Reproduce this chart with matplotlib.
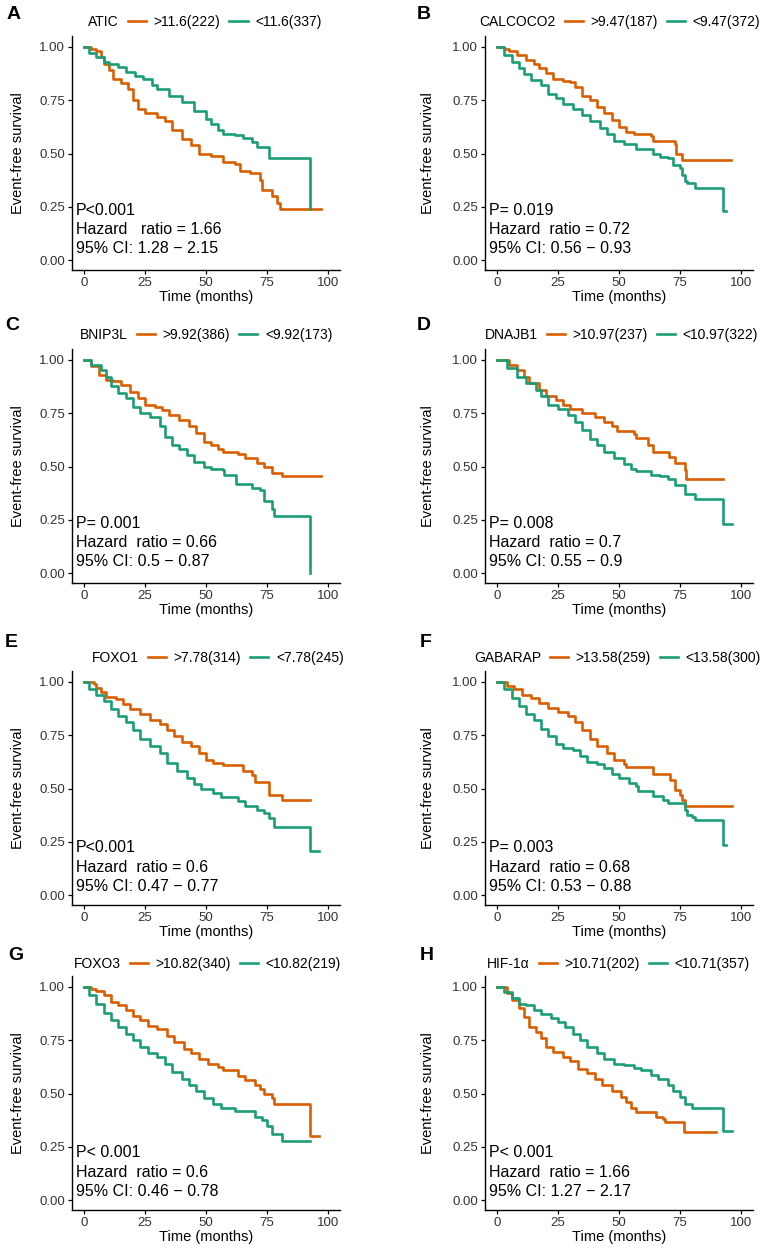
import matplotlib
matplotlib.use("Agg")
import matplotlib.pyplot as plt
from matplotlib.lines import Line2D

plt.rcParams['font.family'] = ['Liberation Sans', 'DejaVu Sans']

ORANGE = "#D95F02"
GREEN = "#1B9E77"

# ---- data: (time in months, survival) knots of each KM step curve ----
genes = ["ATIC", "CALCOCO2", "BNIP3L", "DNAJB1", "FOXO1", "GABARAP", "FOXO3", "HIF-1α"]
letters = ["A", "B", "C", "D", "E", "F", "G", "H"]
high_labels = [">11.6(222)", ">9.47(187)", ">9.92(386)", ">10.97(237)",
               ">7.78(314)", ">13.58(259)", ">10.82(340)", ">10.71(202)"]
low_labels = ["<11.6(337)", "<9.47(372)", "<9.92(173)", "<10.97(322)",
              "<7.78(245)", "<13.58(300)", "<10.82(219)", "<10.71(357)"]
p_text = ["P<0.001", "P= 0.019", "P= 0.001", "P= 0.008",
          "P<0.001", "P= 0.003", "P< 0.001", "P< 0.001"]
hr_text = ["Hazard   ratio = 1.66", "Hazard  ratio = 0.72", "Hazard  ratio = 0.66", "Hazard  ratio = 0.7",
           "Hazard  ratio = 0.6", "Hazard  ratio = 0.68", "Hazard  ratio = 0.6", "Hazard  ratio = 1.66"]
ci_text = ["95% CI: 1.28 − 2.15", "95% CI: 0.56 − 0.93", "95% CI: 0.5 − 0.87", "95% CI: 0.55 − 0.9",
           "95% CI: 0.47 − 0.77", "95% CI: 0.53 − 0.88", "95% CI: 0.46 − 0.78", "95% CI: 1.27 − 2.17"]

atic_hi_t = [0, 3, 5, 7, 8, 10, 12, 15, 18, 20, 22, 25, 30, 33, 36, 40, 44, 47, 52, 57, 62, 64, 68, 72, 73, 77, 79, 80.5, 97]
atic_hi_s = [1.0, 0.99, 0.98, 0.95, 0.92, 0.89, 0.85, 0.83, 0.80, 0.75, 0.71, 0.69, 0.67, 0.65, 0.61, 0.57, 0.54, 0.50, 0.49, 0.46, 0.45, 0.42, 0.41, 0.375, 0.33, 0.30, 0.27, 0.24, 0.24]
atic_lo_t = [0, 2, 5, 8, 10, 14, 17, 21, 24, 28, 30, 35, 40, 45, 50, 52, 55, 57, 62, 65, 69, 71, 76, 92.5, 92.5]
atic_lo_s = [1.0, 0.97, 0.95, 0.93, 0.92, 0.905, 0.88, 0.865, 0.85, 0.82, 0.80, 0.77, 0.74, 0.70, 0.66, 0.64, 0.61, 0.59, 0.585, 0.575, 0.555, 0.53, 0.48, 0.48, 0.24]

calc_hi_t = [0, 3, 5, 8, 12, 15, 17, 20, 23, 27, 30, 32, 35, 38, 41, 44, 47, 50, 53, 56, 63, 64, 73, 73.5, 76, 96]
calc_hi_s = [1.0, 0.99, 0.98, 0.96, 0.94, 0.92, 0.90, 0.875, 0.85, 0.84, 0.835, 0.81, 0.77, 0.75, 0.72, 0.69, 0.655, 0.625, 0.60, 0.59, 0.58, 0.56, 0.545, 0.50, 0.47, 0.47]
calc_lo_t = [0, 3, 6, 9, 11, 14, 18, 21, 24, 27, 31, 35, 38, 42, 45, 48, 52, 57, 64, 67, 70, 72, 75, 76, 77, 78, 81, 92.5, 92.5, 94]
calc_lo_s = [1.0, 0.96, 0.93, 0.90, 0.87, 0.845, 0.82, 0.78, 0.76, 0.73, 0.71, 0.68, 0.65, 0.62, 0.59, 0.56, 0.545, 0.52, 0.50, 0.485, 0.48, 0.445, 0.43, 0.40, 0.37, 0.36, 0.34, 0.34, 0.23, 0.23]

bnip_hi_t = [0, 3, 6, 9, 12, 15, 19, 22, 25, 29, 32, 35, 39, 43, 46, 49, 52, 55, 57, 63, 66, 71, 74, 77, 81, 97]
bnip_hi_s = [1.0, 0.97, 0.93, 0.905, 0.90, 0.88, 0.85, 0.82, 0.79, 0.78, 0.765, 0.74, 0.72, 0.69, 0.655, 0.615, 0.60, 0.58, 0.57, 0.56, 0.54, 0.515, 0.50, 0.47, 0.455, 0.455]
bnip_lo_t = [0, 3, 7, 9, 11, 14, 17, 20, 23, 27, 31, 33, 36, 39, 42, 45, 49, 52, 57, 57.5, 62.5, 69, 72, 74, 77, 78, 92.5, 92.5]
bnip_lo_s = [1.0, 0.975, 0.953, 0.92, 0.875, 0.845, 0.82, 0.78, 0.75, 0.73, 0.69, 0.64, 0.60, 0.58, 0.555, 0.52, 0.50, 0.49, 0.485, 0.46, 0.42, 0.40, 0.39, 0.34, 0.30, 0.27, 0.27, 0.0]

dnaj_hi_t = [0, 5, 8, 11, 13, 17, 20, 24, 27, 30, 35, 40, 44, 47, 49, 56, 57, 62, 64, 70.5, 73, 77, 77.5, 92.5]
dnaj_hi_s = [1.0, 0.975, 0.953, 0.92, 0.89, 0.86, 0.83, 0.81, 0.79, 0.77, 0.75, 0.73, 0.71, 0.69, 0.665, 0.65, 0.635, 0.60, 0.57, 0.545, 0.515, 0.485, 0.44, 0.44]
dnaj_lo_t = [0, 4, 8, 12, 16, 18, 21, 25, 29, 32, 35, 38, 41, 44, 48, 52, 55, 57, 63, 67, 70, 73, 77, 81, 92.5, 92.5, 96.5]
dnaj_lo_s = [1.0, 0.96, 0.92, 0.89, 0.86, 0.83, 0.79, 0.77, 0.74, 0.71, 0.67, 0.63, 0.60, 0.57, 0.54, 0.51, 0.49, 0.48, 0.46, 0.455, 0.44, 0.415, 0.37, 0.35, 0.35, 0.23, 0.23]

foxo1_hi_t = [0, 4, 5, 7, 9, 13, 16, 19, 23, 27, 31, 34, 37, 40, 44, 47, 50, 53, 57, 65, 69, 70, 76, 81, 92.5]
foxo1_hi_s = [1.0, 0.99, 0.97, 0.95, 0.93, 0.917, 0.894, 0.87, 0.847, 0.82, 0.80, 0.776, 0.745, 0.72, 0.70, 0.667, 0.635, 0.62, 0.61, 0.58, 0.565, 0.53, 0.47, 0.447, 0.447]
foxo1_lo_t = [0, 2, 5, 8, 11, 14, 17, 20, 23, 27, 31, 34, 38, 42, 45, 48, 53, 56, 63, 66, 71, 74, 76, 78, 92.5, 92.5, 96.5]
foxo1_lo_s = [1.0, 0.964, 0.94, 0.91, 0.87, 0.84, 0.81, 0.776, 0.73, 0.70, 0.667, 0.62, 0.58, 0.55, 0.52, 0.50, 0.48, 0.46, 0.44, 0.416, 0.40, 0.385, 0.36, 0.32, 0.32, 0.21, 0.21]

gaba_hi_t = [0, 4, 7, 10, 14, 17, 21, 25, 29, 32, 35, 38, 41, 45, 48, 52, 53, 64, 71, 73, 75, 76, 77, 96.5]
gaba_hi_s = [1.0, 0.98, 0.964, 0.94, 0.925, 0.90, 0.878, 0.86, 0.84, 0.81, 0.776, 0.73, 0.70, 0.667, 0.635, 0.617, 0.60, 0.57, 0.54, 0.495, 0.47, 0.447, 0.42, 0.42]
gaba_lo_t = [0, 3, 6, 9, 12, 15, 18, 21, 24, 27, 31, 34, 37, 41, 44, 47, 50, 54, 57, 58, 64, 68, 70, 77, 78, 80, 81, 92.5, 92.5, 94]
gaba_lo_s = [1.0, 0.964, 0.925, 0.886, 0.847, 0.823, 0.78, 0.745, 0.71, 0.69, 0.68, 0.65, 0.625, 0.615, 0.596, 0.57, 0.55, 0.527, 0.51, 0.487, 0.463, 0.447, 0.43, 0.40, 0.377, 0.365, 0.354, 0.354, 0.236, 0.236]

foxo3_hi_t = [0, 3, 5, 8, 11, 14, 17, 20, 23, 26, 30, 34, 37, 41, 44, 47, 51, 55, 57, 63, 66, 70, 72, 74, 77, 78, 92.5, 92.5, 96.5]
foxo3_hi_s = [1.0, 0.99, 0.98, 0.96, 0.93, 0.914, 0.89, 0.864, 0.844, 0.817, 0.80, 0.77, 0.742, 0.71, 0.69, 0.66, 0.64, 0.625, 0.61, 0.583, 0.562, 0.54, 0.523, 0.50, 0.477, 0.453, 0.453, 0.30, 0.30]
foxo3_lo_t = [0, 2, 5, 8, 11, 14, 17, 20, 23, 26, 30, 33, 36, 40, 43, 46, 49, 53, 56, 62, 70, 73, 75, 77, 81, 92.5]
foxo3_lo_s = [1.0, 0.96, 0.92, 0.875, 0.844, 0.81, 0.78, 0.75, 0.72, 0.69, 0.67, 0.64, 0.60, 0.57, 0.54, 0.51, 0.48, 0.453, 0.43, 0.417, 0.39, 0.375, 0.35, 0.31, 0.28, 0.28]

hif_hi_t = [0, 4, 6, 9, 11, 13, 16, 18, 20, 23, 27, 30, 33, 37, 40, 43, 47, 51, 53, 55, 57, 65, 68, 69, 76.5, 90]
hif_hi_s = [1.0, 0.97, 0.94, 0.90, 0.86, 0.81, 0.79, 0.76, 0.72, 0.695, 0.67, 0.65, 0.617, 0.594, 0.57, 0.54, 0.51, 0.484, 0.46, 0.43, 0.415, 0.39, 0.38, 0.367, 0.32, 0.32]
hif_lo_t = [0, 3, 6, 9, 12, 15, 18, 22, 25, 28, 31, 34, 37, 41, 44, 48, 52, 56, 59, 63, 66, 70, 72, 75, 77, 80, 92.5, 92.5, 96.5]
hif_lo_s = [1.0, 0.977, 0.945, 0.92, 0.914, 0.89, 0.87, 0.855, 0.836, 0.81, 0.78, 0.75, 0.72, 0.69, 0.66, 0.64, 0.633, 0.62, 0.61, 0.586, 0.57, 0.54, 0.51, 0.484, 0.453, 0.433, 0.433, 0.325, 0.325]

high_t = [atic_hi_t, calc_hi_t, bnip_hi_t, dnaj_hi_t, foxo1_hi_t, gaba_hi_t, foxo3_hi_t, hif_hi_t]
high_s = [atic_hi_s, calc_hi_s, bnip_hi_s, dnaj_hi_s, foxo1_hi_s, gaba_hi_s, foxo3_hi_s, hif_hi_s]
low_t = [atic_lo_t, calc_lo_t, bnip_lo_t, dnaj_lo_t, foxo1_lo_t, gaba_lo_t, foxo3_lo_t, hif_lo_t]
low_s = [atic_lo_s, calc_lo_s, bnip_lo_s, dnaj_lo_s, foxo1_lo_s, gaba_lo_s, foxo3_lo_s, hif_lo_s]

# ---- layout (pixels) ----
W, H = 765, 1253
col_left = [72, 485]
col_width = 268
row_top = [36, 349, 671, 976]
row_height = 234
legend_x = [128, 565, 137, 547, 148, 550, 130, 539]
legend_y = [22, 22, 335, 335, 658, 658, 964, 964]
letter_pos = [(7, 6), (417, 6), (5, 317), (417, 317), (5, 634), (420, 634), (8, 947), (420, 947)]
stat_y = [(0.235, 0.145, 0.055)] * 4 + [(0.225, 0.13, 0.04)] * 4

fig = plt.figure(figsize=(W / 100, H / 100), dpi=100)

for i in range(8):
    r, c = divmod(i, 2)
    l = col_left[c]
    t = row_top[r]
    ax = fig.add_axes([l / W, 1 - (t + row_height) / H, col_width / W, row_height / H])

    ax.step(high_t[i], high_s[i], where="post", color=ORANGE, lw=1.9)
    ax.step(low_t[i], low_s[i], where="post", color=GREEN, lw=1.9)

    ax.set_xlim(-5, 105)
    ax.set_ylim(-0.045, 1.05)
    ax.set_xticks([0, 25, 50, 75, 100])
    ax.set_yticks([0, 0.25, 0.5, 0.75, 1.0])
    ax.set_yticklabels(["0.00", "0.25", "0.50", "0.75", "1.00"])
    for s in ["top", "right"]:
        ax.spines[s].set_visible(False)
    for s in ["left", "bottom"]:
        ax.spines[s].set_linewidth(1.0)
        ax.spines[s].set_color("black")
    ax.tick_params(labelsize=9.5, length=3, width=0.9, colors="black", labelcolor="#333333", pad=2)

    ax.set_xlabel("Time (months)", fontsize=10.5)
    ax.set_ylabel("Event-free survival", fontsize=10.5)
    ax.xaxis.set_label_coords(0.5, -0.085)
    ax.yaxis.set_label_coords(-0.175 if c == 0 else -0.185, 0.5)

    for txt, yy in zip([p_text[i], hr_text[i], ci_text[i]], stat_y[i]):
        ax.text(-3.3, yy, txt, fontsize=11.5, va="center", ha="left")

    handles = [Line2D([], [], color=ORANGE, lw=1.9), Line2D([], [], color=GREEN, lw=1.9)]
    fig.legend(handles, [high_labels[i], low_labels[i]], loc="center left",
               bbox_to_anchor=(legend_x[i] / W, 1 - legend_y[i] / H), ncol=2,
               frameon=False, fontsize=10.0, handlelength=1.3, handletextpad=0.55,
               columnspacing=0.65, borderpad=0, borderaxespad=0)
    fig.text((legend_x[i] - 9) / W, 1 - legend_y[i] / H, genes[i], fontsize=10.0,
             ha="right", va="center")

    lx, ly = letter_pos[i]
    fig.text(lx / W, 1 - ly / H, letters[i], fontsize=14, fontweight="bold", ha="left", va="top")

fig.savefig("out.png", dpi=100)
